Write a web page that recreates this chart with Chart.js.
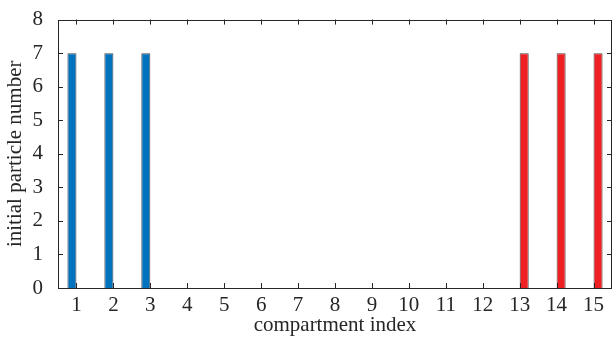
<!DOCTYPE html>
<html>
<head>
<meta charset="utf-8">
<script src="https://cdn.jsdelivr.net/npm/chart.js@4/dist/chart.umd.min.js"></script>
<style>
  html, body { margin: 0; padding: 0; background: #fff; }
  #wrap { width: 613px; height: 338px; }
</style>
</head>
<body>
<div id="wrap"><canvas id="grafico"></canvas></div>
<script>
// dados
const compartimentos = ['1','2','3','4','5','6','7','8','9','10','11','12','13','14','15'];
const particulasAzul = [7, 7, 7, 0, 0, 0, 0, 0, 0, 0, 0, 0, 0, 0, 0];
const particulasVermelho = [0, 0, 0, 0, 0, 0, 0, 0, 0, 0, 0, 0, 7, 7, 7];
const ticksY = [0, 1, 2, 3, 4, 5, 6, 7, 8];

const fonte = '"Liberation Serif", "Times New Roman", serif';

// caixa e ticks para dentro, estilo MATLAB
const caixaPlugin = {
  id: 'caixa',
  afterDraw(chart) {
    const { ctx, chartArea: a, scales } = chart;
    const len = 5;
    ctx.save();
    ctx.strokeStyle = '#262626';
    ctx.lineWidth = 1;
    ctx.beginPath();
    scales.x.ticks.forEach((t, i) => {
      const px = Math.round(scales.x.getPixelForTick(i)) + 0.5;
      ctx.moveTo(px, a.bottom); ctx.lineTo(px, a.bottom - len);
      ctx.moveTo(px, a.top); ctx.lineTo(px, a.top + len);
    });
    scales.y.ticks.forEach((t, i) => {
      const py = Math.round(scales.y.getPixelForTick(i)) + 0.5;
      ctx.moveTo(a.left, py); ctx.lineTo(a.left + len, py);
      ctx.moveTo(a.right, py); ctx.lineTo(a.right - len, py);
    });
    ctx.stroke();
    ctx.beginPath();
    ctx.rect(Math.round(a.left) + 0.5, Math.round(a.top) + 0.5,
             Math.round(a.right - a.left) - 1, Math.round(a.bottom - a.top));
    ctx.stroke();
    ctx.restore();
  }
};

new Chart(document.getElementById('grafico'), {
  type: 'bar',
  data: {
    labels: compartimentos,
    datasets: [
      {
        data: particulasAzul,
        backgroundColor: '#0072BD',
        borderColor: '#4a4a4a',
        borderWidth: 1,
        borderSkipped: 'bottom'
      },
      {
        data: particulasVermelho,
        backgroundColor: '#EE2024',
        borderColor: '#4a4a4a',
        borderWidth: 1,
        borderSkipped: 'bottom'
      }
    ]
  },
  options: {
    responsive: true,
    maintainAspectRatio: false,
    animation: false,
    layout: { padding: { top: 17, right: 1, left: 3, bottom: 0 } },
    datasets: { bar: { categoryPercentage: 0.49, barPercentage: 1.0 } },
    plugins: { legend: { display: false }, tooltip: { enabled: false } },
    scales: {
      x: {
        grid: { display: false },
        border: { display: false },
        ticks: { color: '#262626', font: { family: fonte, size: 21 }, padding: -3, maxRotation: 0 },
        title: { display: true, text: 'compartment index', color: '#262626', font: { family: fonte, size: 21 }, padding: { top: -2, bottom: 0 } },
        afterFit(s) { s.height = 50; }
      },
      y: {
        min: 0,
        max: 8,
        afterBuildTicks(s) { s.ticks = ticksY.map(v => ({ value: v })); },
        grid: { display: false },
        border: { display: false },
        ticks: { color: '#262626', font: { family: fonte, size: 21 }, padding: 7 },
        title: { display: true, text: 'initial particle number', color: '#262626', font: { family: fonte, size: 21 }, padding: { top: 0, bottom: 0 } },
        afterFit(s) { s.width = 55; }
      }
    }
  },
  plugins: [caixaPlugin]
});
</script>
</body>
</html>
